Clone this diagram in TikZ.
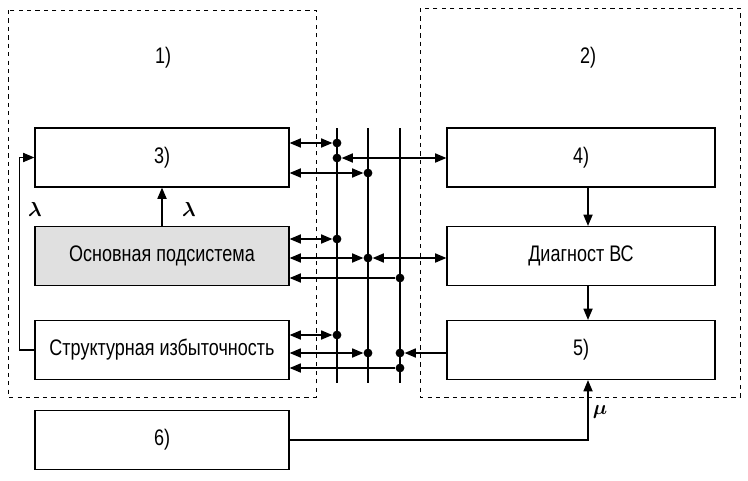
\documentclass[tikz,border=0pt]{standalone}
\usepackage{amsmath}
\usepackage{fontspec}
\setmainfont[FakeStretch=0.8]{Liberation Sans}
\usetikzlibrary{arrows.meta}

\tikzset{
  box/.style={draw, line width=0.9pt, minimum width=6.35cm, minimum height=1.475cm, inner sep=0pt},
  rbox/.style={box, minimum width=6.7cm},
  frame/.style={draw, dashed, line width=0.7pt},
  bus/.style={line width=2.1pt},
  dot/.style={circle, fill, inner sep=0pt, minimum size=0.22cm},
  link/.style={line width=0.8pt},
  greek/.style={font=\fontsize{15}{17}\selectfont},
}

\begin{document}
\begin{tikzpicture}[x=0.025cm, y=-0.025cm, >={Triangle[length=2.8mm,width=2.3mm]}, font=\fontsize{16}{19}\selectfont]
\useasboundingbox (0,0) rectangle (748,480);
\def\xa{337};
\def\xb{368};
\def\xc{400};
\def\yt{128};
\def\yb{383};

% frames
\draw[frame] (8,10) rectangle (316,397);
\draw[frame] (420,8) rectangle (740,397);
\node (L1) at (163,58) {1)};
\node (L2) at (588,58) {2)};

% boxes on the left
\node[box] (B3) at (162,157.5) {3)};
\node[box, fill=black!12] (BM) at (162,256) {Основная подсистема};
\node[box] (BS) at (162,350) {Структурная избыточность};
\node[box] (B6) at (162,440) {6)};

% boxes on the right
\node[rbox] (B4) at (581,157.5) {4)};
\node[rbox] (BD) at (581,256) {Диагност ВС};
\node[rbox] (B5) at (581,350) {5)};

% bus
\foreach \x in {\xa, \xb, \xc}
  \draw[bus] (\x, \yt) -- (\x, \yb);

\node[dot] (D1) at (\xa,143) {};
\node[dot] (D2) at (\xa,158) {};
\node[dot] (D3) at (\xb,173) {};
\node[dot] (D4) at (\xa,239) {};
\node[dot] (D5) at (\xb,258) {};
\node[dot] (D6) at (\xc,278) {};
\node[dot] (D7) at (\xa,335) {};
\node[dot] (D8) at (\xb,353) {};
\node[dot] (D9) at (\xc,353) {};
\node[dot] (D10) at (\xc,368) {};

% links to the bus
\draw[link, <->] (B3.east |- D1) -- (D1);
\draw[link, <->] (D2) -- (B4.west |- D2);
\draw[link, <->] (B3.east |- D3) -- (D3);
\draw[link, <->] (BM.east |- D4) -- (D4);
\draw[link, <->] (BM.east |- D5) -- (D5);
\draw[link, <->] (D5) -- (BD.west |- D5);
\draw[link, ->] (D6) -- (BM.east |- D6);
\draw[link, <->] (BS.east |- D7) -- (D7);
\draw[link, <->] (BS.east |- D8) -- (D8);
\draw[link, ->] (B5.west |- D9) -- (D9);
\draw[link, ->] (D10) -- (BS.east |- D10);

% other arrows
\draw[link, ->] (BM) -- (B3);
\draw[link, ->] (BS.west) -- ++(-15,0) |- (B3.west);
\draw[link, ->] (B4.south -| L2) -- (BD.north -| L2);
\draw[link, ->] (BD.south -| L2) -- (B5.north -| L2);
\draw[link, ->] (B6.east) -| (B5.south -| L2);

\node[greek] (LA) at (35,209) {$\boldsymbol{\lambda}$};
\node[greek] (LB) at (189,209) {$\boldsymbol{\lambda}$};
\node[greek] (MU) at (600,412) {$\boldsymbol{\mu}$};

\end{tikzpicture}
\end{document}
